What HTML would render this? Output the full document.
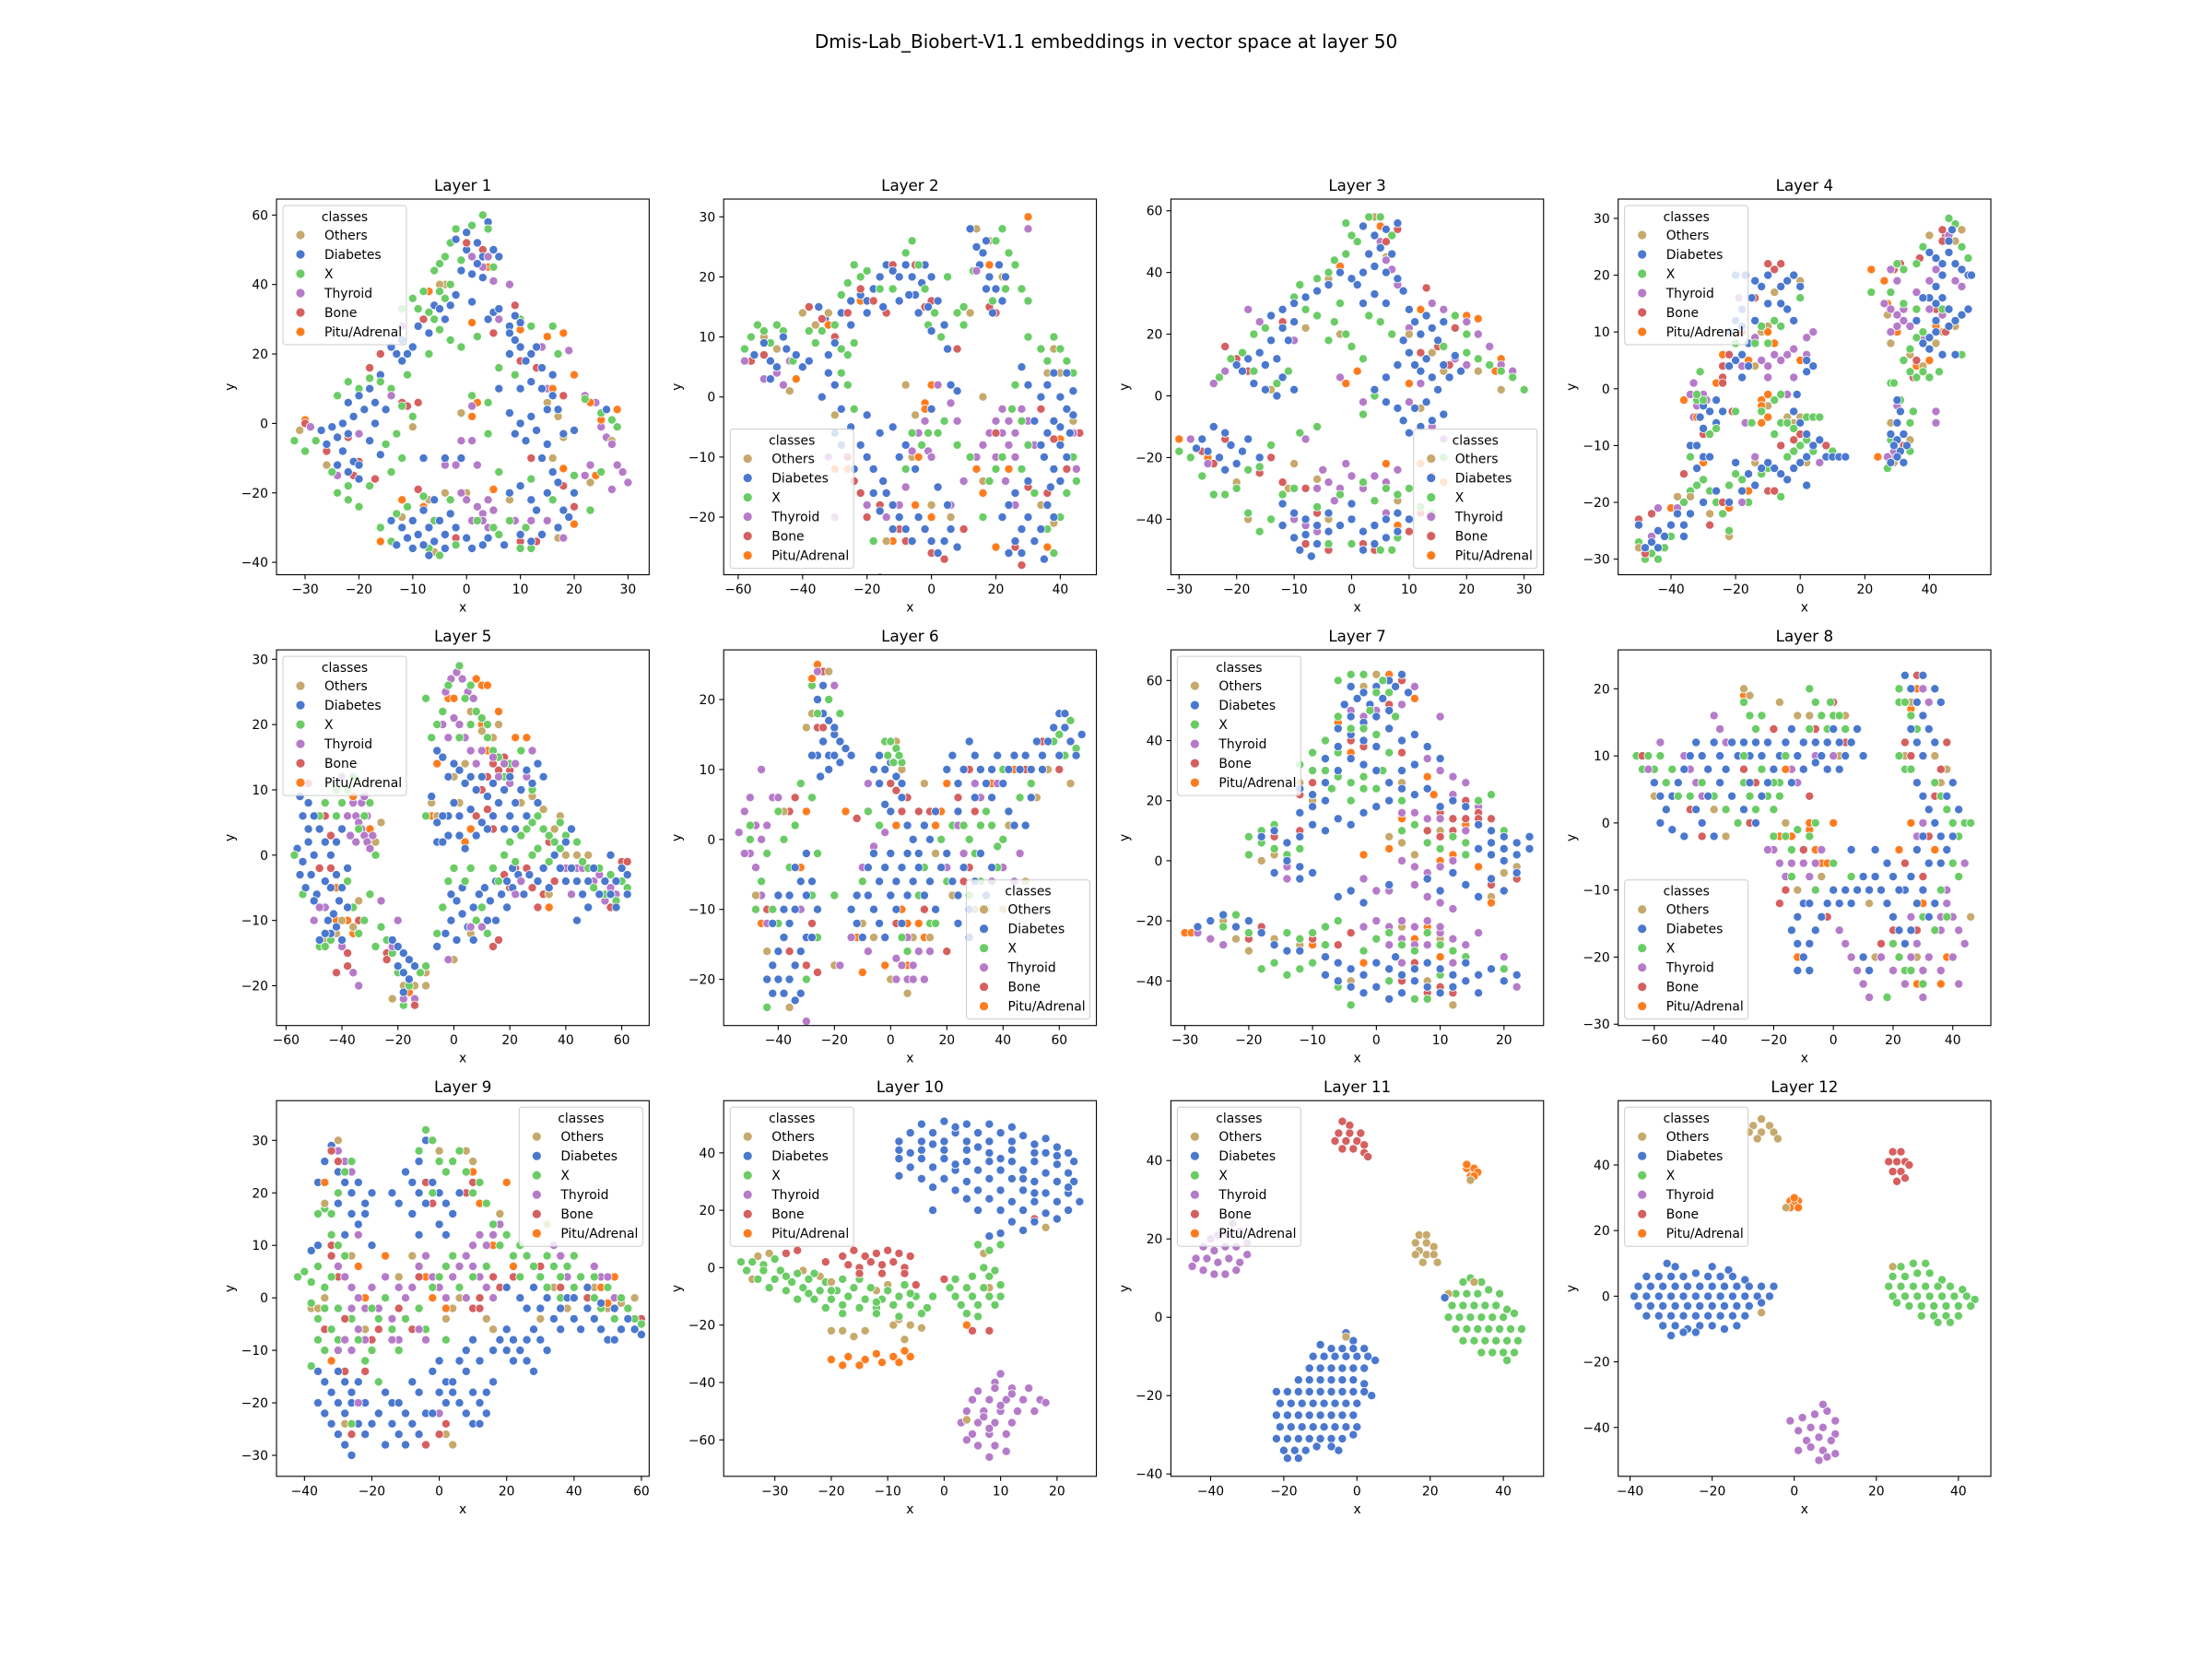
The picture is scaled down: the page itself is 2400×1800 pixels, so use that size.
<!DOCTYPE html>
<html><head><meta charset="utf-8"><title>Dmis-Lab_Biobert-V1.1 embeddings</title>
<style>html,body{margin:0;padding:0;background:#fff}svg{display:block}text{font-family:"DejaVu Sans","Liberation Sans",sans-serif;fill:#000}</style>
</head><body>
<svg id="fig" xmlns="http://www.w3.org/2000/svg" width="2400" height="1800" viewBox="0 0 2400 1800">
<rect width="2400" height="1800" fill="#fff"/>
<text x="1200" y="52" font-size="20" text-anchor="middle">Dmis-Lab_Biobert-V1.1 embeddings in vector space at layer 50</text>
</svg>
<script>
const categories=["Others","Diabetes","X","Thyroid","Bone","Pitu/Adrenal"];
const classColors=["#c6a96c","#4a78cf","#6acc65","#b57bc9","#d65f5f","#fe7c1e"];
// ---- Layer 1 ----
const l1_others=[1,57,-4,40,-5,40,-12,-27,-7,-22,-4,-20,0,-20,-6,-37,8,-22,15,6,17,2,18,-4,23,-17,27,-5,16,-10,17,-33,-1,3,-10,-1,-31,-2,-26,-12];
const l1_diabetes=[0,50,2,52,4,58,3,48,-1,44,1,43,3,42,0,55,-2,53,5,50,2,46,6,48,-9,28,-8,30,-6,34,-5,33,-4,30,-3,34,-7,26,-2,37,1,35,4,30,5,32,6,33,8,28,9,31,10,29,-14,22,-13,20,-12,18,-11,20,-10,22,-12,24,-16,14,-18,10,-20,8,-17,6,-19,4,-15,4,-22,6,-21,2,-23,0,-25,-1,-27,-2,-28,-5,-26,-6,-24,-4,-22,-3,-23,-8,-21,-11,-24,-12,-22,-14,-20,-12,-18,-5,-17,0,-16,-9,-20,-16,8,26,9,24,10,22,12,20,8,20,11,18,13,22,14,16,12,12,10,10,14,10,16,8,15,4,12,2,10,0,13,-2,15,-6,11,-5,9,-3,8,3,6,10,16,14,17,4,18,-3,14,-10,16,-14,17,-17,15,-20,12,-22,13,-25,18,-25,20,-20,19,-27,17,-30,14,-32,12,-34,10,-32,8,-20,10,-18,7,-35,4,-33,20,-2,26,4,-12,-30,-10,-28,-9,-32,-8,-25,-7,-30,-6,-34,-5,-28,-4,-32,-3,-26,-6,-22,-8,-35,-10,-36,-11,-33,-13,-35,-2,-30,0,-33,1,-36,3,-35,-4,-36,-7,-38,-14,-28,-1,-10,-4,-10,-8,-10];
const l1_x=[-3,52,-4,48,-2,56,1,57,-1,47,5,45,4,56,-5,46,-6,44,3,60,-10,36,-9,33,-7,32,-6,30,-8,38,-5,38,-4,36,-3,40,-12,33,-5,27,-3,24,-1,22,2,25,-7,20,10,30,12,28,16,28,17,20,6,16,9,14,-11,14,4,6,-20,10,-22,12,-24,8,-18,13,-16,12,-14,10,-12,5,-10,2,-13,-3,-15,-6,-12,-10,-14,-14,-28,-5,-30,-8,-32,-5,-25,-14,-24,-20,-22,-22,-20,-24,-18,-18,-22,-18,-16,-30,-14,-34,-13,-26,-11,-24,-8,-21,-6,-28,-3,-22,-2,-35,-5,-38,-7,-36,2,-28,5,-30,6,-32,10,-36,12,-36,11,-30,8,-28,12,-16,16,-22,20,-15,23,-25,25,-14,25,3,27,1,28,-1,22,7,1,8,4,-3,6,-14];
const l1_thyroid=[1,48,3,45,5,41,4,48,8,40,6,30,14,22,15,10,19,21,22,8,24,6,25,-1,26,-4,27,-6,23,-12,22,-15,28,-12,29,-14,30,-17,27,-19,-1,-20,0,-22,2,-24,3,-26,1,-28,4,-22,3,-28,5,-25,4,-30,-2,-12,-4,-12,-1,-5,1,-5,2,-12,1,5,-24,-15,12,-28,15,-28,18,-33,9,-28,-12,28,-14,8,-29,-1,-20,-3];
const l1_bone=[4,58,3,50,0,52,-18,16,-16,20,-12,6,-11,5,-9,6,-20,-11,-21,-15,-17,-16,-22,-4,-26,-8,9,34,5,26,10,18,13,16,12,-10,18,8,12,-16,18,-18,20,-24,10,-34,13,-34,-9,-19,-2,-33,-30,0,-8,30];
const l1_pitu=[4,45,-4,30,1,29,2,6,1,2,-7,38,15,25,18,26,20,14,16,10,23,6,24,-15,25,1,28,4,20,-29,18,-13,-16,-34,-8,-24,5,-19,10,27,-30,1,-12,-22];
// ---- Layer 2 ----
const l2_others=[-52,10,-48,8,-44,1,-40,14,-36,12,-32,14,-26,19,-6,-10,-5,-3,12,14,14,28,18,26,22,20,36,4,38,8,40,4,44,-4,34,-18,38,-21,16,-14,28,-12,6,-20,-8,2,-30,-3,-14,-24,0,-18,16,0];
const l2_diabetes=[-35,15,-33,13,-30,12,-28,14,-25,16,-22,17,-20,16,-18,18,-16,20,-14,22,-12,21,-10,20,-8,22,-6,20,-5,17,-3,19,-2,22,0,20,-1,15,-4,14,-7,17,-10,16,-15,15,-20,14,-25,12,-30,9,-32,7,2,16,4,12,0,11,5,8,12,28,14,25,16,24,15,22,17,26,18,20,20,18,22,16,19,14,21,22,23,20,17,18,-55,7,-52,9,-50,6,-48,5,-45,8,-42,7,-40,5,-38,6,-46,10,-50,3,-34,0,-32,4,-30,2,-28,-2,-30,-6,-28,-8,-25,-5,-22,-8,-20,-10,-18,-12,-15,-14,-18,-16,-16,-19,-14,-16,-12,-18,-10,-20,-12,-22,-8,-22,-6,-24,-4,-20,-2,-22,0,-24,2,-26,4,-24,6,-22,8,-25,5,-18,2,-15,-20,-3,-24,-12,-10,-10,-12,-5,-8,-8,-5,-12,0,-2,8,1,6,2,-16,-6,22,-20,24,-18,26,-24,28,-22,30,-20,32,-24,34,-22,36,-18,38,-20,26,-16,30,-14,28,-26,24,-26,35,-27,40,-14,34,0,36,2,38,4,40,0,42,-2,38,-4,36,-6,40,-8,42,-10,38,-12,35,-10,44,-3,42,4,44,1,32,-4,34,-8,30,2,28,5,40,-5,37,-15,43,-6];
const l2_x=[-58,8,-56,10,-54,12,-52,11,-50,9,-48,12,-46,11,-43,6,-38,11,-36,9,-34,11,-30,12,-28,8,-26,7,-24,9,-28,17,-26,19,-24,22,-22,20,-20,21,-16,18,-12,18,-8,24,-6,26,-4,22,-2,18,-1,12,1,14,3,10,8,14,10,12,5,20,13,21,20,26,22,28,24,24,26,22,28,18,30,16,23,18,19,16,10,15,30,10,34,8,36,6,40,8,42,6,44,4,38,10,25,-2,26,2,28,-4,30,-8,28,-12,32,-16,36,-22,40,-20,42,-16,-28,4,-26,2,-24,-2,-18,-24,-16,-30,-8,-12,-6,-6,-3,-8,-1,-6,2,-6,4,-4,8,-8,12,-10,18,-14,16,-20,20,-12,22,-10,44,-10,45,-14,38,-26];
const l2_thyroid=[-52,3,-48,4,-46,2,-44,6,-58,6,-30,-20,-32,-10,-20,-18,-14,-20,-10,-18,-8,-15,-6,-9,-4,-6,-2,-4,-1,-9,0,-10,2,2,6,-1,8,-4,14,-10,16,-8,18,-6,20,-4,22,-6,24,-8,26,-10,24,-4,22,-2,26,-6,28,-2,20,-10,23,-14,26,-18,30,-4,32,-8,44,-6,45,-12,30,28,14,21,6,-18,10,-14];
const l2_bone=[-56,6,-52,7,-38,15,-34,13,-30,10,-26,14,-22,18,-18,16,-14,14,-12,22,-5,22,-2,15,0,16,8,8,18,15,20,14,-26,-10,-24,-14,-22,-16,-20,-20,-16,-18,-10,-22,-8,-24,0,-26,4,-27,10,-22,26,-25,30,-15,36,-16,42,-12,46,-6,38,-7,28,-28,34,-2,20,-6];
const l2_pitu=[30,30,18,22,-32,12,-22,16,-26,-12,-42,3,-30,-12,-12,-24,-16,-18,-4,-10,-2,-1,0,2,-5,-18,0,-20,14,-12,16,-16,24,-12,36,2,40,-7,-2,-2,20,-25,36,-25];
// ---- Layer 3 ----
const l3_others=[4,58,6,45,-4,38,-2,20,-8,22,-12,6,-14,2,-20,-28,-18,-40,-10,-22,-6,-27,-4,-40,6,-46,8,-34,12,-4,14,14,16,8,22,8,26,2,-11,-30,10,20];
const l3_diabetes=[2,55,4,52,6,54,8,56,5,48,3,46,7,46,4,42,6,40,8,38,2,40,0,38,-2,40,-4,36,-6,34,-8,32,-10,30,-12,28,-14,26,-12,22,-14,18,-16,14,-18,12,-20,10,-15,10,-13,12,-11,18,-10,24,1,36,2,30,4,33,6,30,9,34,10,28,11,24,12,20,13,26,14,22,15,18,16,24,10,14,11,10,12,8,13,12,14,6,15,2,13,-2,11,-4,9,-8,10,-12,12,-10,14,-8,16,-6,8,-4,6,-2,4,2,6,6,8,10,9,18,16,10,17,6,18,13,19,8,-19,8,-17,4,-15,2,-12,6,-13,0,-10,2,-22,-12,-24,-10,-26,-14,-25,-18,-23,-20,-21,-16,-20,-22,-18,-14,-19,-18,-22,-24,-27,-17,-16,-20,-12,-35,-10,-38,-8,-40,-6,-42,-8,-45,-6,-48,-4,-44,-2,-42,0,-40,2,-44,4,-42,6,-40,8,-38,6,-46,4,-48,2,-50,-10,-46,-12,-42,-4,-38,0,-35,8,-44,10,-40,-9,-50,-7,-52];
const l3_x=[0,52,-1,56,1,50,3,58,5,58,7,52,-1,46,-3,44,-4,40,-6,38,-9,36,-10,32,-8,28,-6,26,-2,30,-3,24,-1,20,-4,18,0,16,2,12,3,26,5,24,7,20,-15,22,-17,20,-19,14,-21,12,-23,6,-17,8,-13,4,-11,8,16,16,20,14,22,12,24,10,26,8,28,6,30,2,20,20,18,26,4,0,2,-6,-6,-10,-9,-12,-14,-16,-16,-23,-18,-24,-20,-30,-22,-32,-24,-32,-26,-26,-28,-20,-30,-18,-18,-38,-16,-44,-14,-40,-12,-32,-10,-30,-6,-36,-2,-32,2,-28,4,-34,6,-30,8,-32,10,-30,5,-50,7,-50,8,-46,12,-36,14,-38,16,-20,-4,-48,0,-48];
const l3_thyroid=[5,50,6,44,7,41,8,36,14,30,16,28,18,26,20,24,22,20,24,16,26,10,28,8,12,4,10,-2,14,-10,16,-14,18,12,20,10,10,22,-18,28,-16,24,-10,18,-22,8,-24,4,-28,-14,-25,-22,-8,-14,-6,-30,-4,-28,-2,-30,0,-26,2,-30,4,-26,6,-28,8,-24,-3,-34,-1,-22,-5,-24,-8,-42,-6,-44,-10,-40,6,-38,-2,6,2,-2];
const l3_bone=[8,54,6,50,-6,34,-10,32,-12,24,-22,16,-20,12,-18,8,-26,-18,-24,-22,-22,-14,-14,-20,-16,-25,-12,-28,-8,-30,-6,-38,-8,-48,-4,-50,2,-48,4,-50,10,-44,12,-38,14,-26,16,-6,17,10,12,14,15,16,13,35,18,22];
const l3_pitu=[5,55,-2,42,12,28,20,26,22,25,26,12,25,8,1,8,-1,4,14,-26,12,-22,16,-28,6,-22,-30,-14,-25,-20,8,-42,10,4];
// ---- Layer 4 ----
const l4_others=[-2,20,0,19,-8,17,-10,11,-12,10,-16,8,-14,4,-10,-3,-4,-5,-2,-6,0,-5,2,-13,-14,-13,-22,-26,-28,-22,-34,-19,-38,-19,-50,-28,14,-12,40,27,48,26,50,28,48,11,44,10,42,8,38,4,40,2,34,6,28,8,27,13,28,-6,29,-13,34,-9];
const l4_diabetes=[-20,20,-17,20,-14,19,-10,20,-6,18,-4,19,-2,20,0,18,-12,18,-15,16,-18,14,-20,12,-22,10,-18,11,-14,12,-10,15,-6,15,-4,14,-2,12,-16,8,-18,6,-20,5,-22,4,-18,2,-16,4,2,5,4,4,2,3,-1,-1,-2,-4,0,-6,2,-8,-30,-3,-28,-4,-26,-2,-24,-4,-26,-6,-30,-7,-31,-5,-34,-10,-32,-10,-30,-12,-28,-12,-32,-14,-20,-13,-16,-15,-12,-14,-10,-13,-8,-14,-6,-15,-4,-16,-2,-14,0,-13,2,-12,4,-10,6,-9,8,-12,10,-12,12,-12,14,-12,-14,-17,-18,-18,-22,-20,-26,-18,-30,-20,-34,-22,-36,-24,-38,-22,-40,-24,-42,-26,-44,-25,-46,-27,-48,-28,-50,-24,-44,-28,-36,-26,2,-17,40,24,42,23,44,22,46,24,48,22,50,21,52,20,44,20,42,18,40,16,42,15,44,16,46,14,48,12,50,13,52,14,46,11,42,10,40,9,38,8,40,7,44,6,48,6,42,12,36,12,38,16,46,26,47,28,53,20,30,-2,31,-4,30,-6,32,-8,30,-9,28,-8,29,-10,31,-11,33,-10,30,-12,28,-13,32,-13];
const l4_x=[-50,-27,-48,-30,-46,-29,-44,-30,-42,-28,-40,-26,-38,-22,-36,-20,-34,-18,-32,-17,-30,-16,-28,-18,-26,-20,-28,-22,-24,-22,-22,-17,-20,-15,-18,-16,-16,-20,-14,-17,-12,-15,-10,-14,-6,-19,-4,-12,-2,-11,0,-10,2,-9,4,-11,6,-9,10,-11,-34,-12,-32,-2,-30,-2,-32,-1,-22,-25,-31,3,-28,-8,-26,-7,-8,-8,-6,-6,-4,-6,-2,-7,2,-5,4,-5,6,-5,-20,-4,-15,-6,-12,-4,-8,-2,-6,-1,-10,8,-14,8,-12,11,-8,12,-6,11,-20,8,0,16,46,30,48,29,50,25,52,23,38,25,36,22,30,22,32,21,22,17,28,17,32,15,36,14,38,10,36,9,34,7,32,5,34,3,36,2,38,3,40,2,43,3,50,6,28,1,29,1,31,-2,34,-6,35,-4,34,-11,32,-13,27,-14,28,-9,44,14];
const l4_thyroid=[-33,1,-34,-1,-33,-5,-32,-3,-30,-1,-29,-2,-17,-6,-14,9,-12,5,-10,4,-8,6,-6,5,-4,6,-2,7,0,5,2,6,-2,2,-4,-1,-10,2,-19,16,-18,4,4,10,2,9,-14,-12,-18,-20,-38,-21,-44,-21,-46,-26,6,-13,28,21,30,19,28,17,26,15,28,14,30,13,32,14,30,11,28,10,32,12,34,11,36,17,40,19,42,21,44,13,40,14,38,9,46,27,48,19,50,18,30,-3,29,-11,27,-12,42,-4,42,-6];
const l4_bone=[-10,22,-8,21,-6,22,-14,16,-18,10,-22,6,-24,4,-24,2,-24,1,-21,-4,-30,-8,-36,-15,-28,-24,-24,-20,-10,-18,-8,-18,-6,-10,-2,-9,0,-8,4,-10,8,-10,-48,-29,-50,-23,-46,-22,31,22,29,21,37,23,45,27,44,28,44,26,42,14,45,10,36,5,35,2,32,-10,28,-12];
const l4_pitu=[-24,6,-26,1,-36,-2,-32,-5,-30,-13,-10,10,-8,8,-8,6,-12,-2,-12,-3,-10,-1,-12,-6,-10,-5,-16,5,-16,-18,-22,-21,-40,-21,0,5,22,21,26,19,27,15,30,10,36,4,40,5,42,11,24,-12];
// ---- Layer 5 ----
const l5_others=[-42,6,-46,-13,-44,-12,-42,-12,-40,-10,-36,-11,-34,-7,-28,2,-26,5,-22,-22,-18,-20,-14,-20,-10,-18,0,12,2,8,4,14,6,22,10,19,14,18,16,20,24,8,28,9,32,7,36,4,38,6,40,0,44,0,46,-1,48,0,56,-6,62,-6,34,-6,6,-12,0,-16,-10,-20,-8,8,-6,6];
const l5_diabetes=[-56,1,-54,-1,-52,2,-50,0,-48,-2,-55,-3,-53,-5,-51,-3,-49,-6,-47,-8,-45,-10,-43,-9,-41,-7,-44,-5,-46,-4,-42,-3,-40,-5,-38,-8,-44,-12,-46,-12,-48,-13,-42,-11,-40,-13,-50,-7,-54,6,-52,8,-50,6,-48,4,-46,2,-44,0,-42,2,-40,4,-52,4,-55,9,-38,-2,-22,-13,-20,-14,-18,-15,-16,-16,-18,-18,-16,-19,-14,-17,-20,-17,-18,-21,-6,-14,-3,-12,-1,-10,1,-13,3,-9,5,-11,7,-13,-1,-6,1,-7,3,-5,7,-8,9,-6,11,-5,13,-7,15,-4,17,-6,19,-4,21,-5,23,-3,25,-6,27,-3,21,-2,19,-8,15,-10,12,-10,-6,16,-4,15,-2,12,0,14,2,13,4,11,6,12,8,10,10,12,12,9,14,11,16,8,18,10,20,12,22,8,24,10,26,13,28,11,30,14,32,12,20,6,14,6,10,5,6,7,2,6,0,8,-2,6,-4,6,-6,5,-8,9,-6,2,-4,2,-2,3,2,3,4,1,8,3,12,4,18,4,22,4,26,6,30,8,36,0,38,-2,40,-4,42,-2,44,-4,46,-6,48,-4,50,-2,52,-6,54,-4,56,-6,58,-4,60,-2,62,-3,44,-10,48,-8,58,-8,40,2,42,4,56,0,62,-6,32,-2,30,-4,34,-5];
const l5_x=[-57,0,-54,-6,-50,-10,-48,-14,-46,-14,-44,-13,-42,6,-40,8,-38,10,-36,12,-34,4,-38,-4,-36,-8,-34,-12,-32,-10,-30,-6,-28,-14,-26,-11,-24,-13,-22,-15,-20,-18,-18,-23,-16,-20,-12,-18,-10,-17,-48,6,-46,8,-42,10,-32,6,-30,8,-28,0,-4,22,-2,26,2,29,4,24,6,20,8,22,10,21,12,18,14,16,16,15,18,12,20,14,24,16,26,12,28,10,12,20,6,26,-6,20,-8,18,-10,24,-10,6,2,18,24,3,26,4,28,5,30,6,32,4,34,3,36,2,38,5,40,3,44,2,46,-1,28,0,30,1,34,-1,38,1,52,-2,56,-3,58,-7,60,-4,62,-5,54,-6,50,-5,48,-2,-6,-12,-4,-8,-2,-4,0,-2,4,-4,6,-2,8,-10,10,-8,12,-12,14,-2,16,-4,18,0,20,2,22,-1];
const l5_thyroid=[-42,10,-40,12,-38,6,-36,8,-35,6,-34,5,-33,4,-32,3,-31,2,-30,1,-33,8,-35,2,-37,3,-31,6,-29,3,-32,9,-30,8,-46,-8,-50,-10,-48,-8,-40,-14,-36,-18,-34,-20,-22,-14,-18,-22,-14,-22,-20,-10,-26,-7,-3,25,-1,27,1,28,3,27,5,25,7,24,-4,20,-2,18,0,21,2,20,4,18,6,16,8,14,10,16,14,15,16,12,20,11,24,10,26,12,28,16,22,14,18,14,40,-2,42,-6,44,-2,46,-2,50,-4,52,-3,54,-7,56,-5,58,-6,12,-12,10,-11,6,-11,-2,-16,22,-6,24,-4];
const l5_bone=[-46,6,-44,3,-42,2,-44,-2,-48,-2,-42,-18,-38,-15,-38,-17,-24,-15,-24,-16,-34,-10,10,10,12,12,14,14,16,13,18,15,20,13,12,7,8,6,14,4,18,-3,20,-5,26,-2,28,-5,30,-8,32,-6,34,2,36,-4,50,-2,56,-8,60,-1,62,-1,14,-14,16,-13,22,-2,-14,-23,-52,11];
const l5_pitu=[-42,-10,-38,-10,-36,-12,-30,4,-42,-5,-36,9,-16,-21,-2,24,0,24,8,27,10,26,12,26,6,22,10,20,16,22,18,14,22,18,26,18,12,16,-6,14,-8,6,4,2,6,4,34,-8,44,-4];
// ---- Layer 6 ----
const l6_others=[-28,18,-30,16,-22,24,0,14,2,14,4,10,-34,2,-38,4,-44,-16,-48,-8,-36,-24,-20,-18,-10,-12,-6,-14,0,-20,6,-22,8,-14,14,-14,22,-8,30,-10,34,-10,40,-10,46,6,52,6,56,10,62,18,64,8,48,-6,42,2,12,8,16,-2];
const l6_diabetes=[-26,20,-24,18,-22,17,-20,15,-18,14,-16,13,-24,14,-22,12,-20,12,-26,12,-28,12,-22,10,-18,11,-14,12,-24,22,-20,16,-25,9,-4,12,-2,10,0,11,2,9,4,8,-6,10,-4,8,-2,5,0,4,4,6,6,2,8,0,10,-2,12,2,14,0,16,4,6,-2,4,-4,2,-6,0,-2,-2,-4,-4,-6,-6,-2,-8,-4,-10,-6,-12,-8,-14,-10,-12,-12,-10,-14,-8,-8,-6,-10,-4,-12,-2,-14,0,-8,2,-10,4,-12,6,-8,8,-6,10,-4,12,-8,14,-6,16,-10,18,-4,20,-2,22,-6,24,-8,26,-4,28,-10,30,-6,32,-2,34,-8,36,-4,20,10,22,12,24,8,26,10,28,14,30,12,32,10,34,8,36,10,38,12,40,8,42,10,44,12,46,10,48,12,50,10,52,14,54,12,56,14,58,16,60,18,62,16,64,14,66,12,68,15,60,12,50,6,42,4,36,6,30,6,24,4,44,2,48,2,54,10,62,18,24,-12,28,-14,-34,-4,-32,-6,-30,-8,-34,-10,-36,-12,-38,-14,-40,-16,-42,-18,-44,-20,-40,-20,-38,-22,-36,-20,-34,-18,-32,-16,-30,-14,-36,-8,-38,-10,-42,-12,-40,-8,-30,-2,-28,-6,-26,-10,-28,-14,-32,-22,-34,-23,-42,-22];
const l6_x=[-28,22,-26,18,-22,20,-18,18,-30,4,-32,8,-28,6,-34,2,-26,-2,-28,-8,-36,-4,-38,0,-40,4,-44,-2,-46,-6,-48,-10,-50,2,-42,-10,-40,-12,-26,-14,-30,-20,-44,-24,-2,14,0,14,2,13,4,11,-1,12,1,11,3,12,-4,2,-8,4,-12,-12,14,-12,10,-8,12,-4,18,0,22,2,26,2,28,0,30,-2,32,2,34,4,36,2,38,-1,40,0,38,-4,32,-6,34,-10,28,-8,20,-6,16,-12,40,10,46,6,50,8,58,14,60,15,64,17,66,13,62,12,-10,-6,4,-14,6,-16,-50,0,-20,-8];
const l6_thyroid=[-52,4,-50,6,-48,2,-46,0,-44,-2,-48,-4,-50,-2,-46,-8,-44,2,-42,6,-54,1,-52,-2,-40,6,-46,10,-20,22,-26,24,-44,-12,-40,-8,-32,-10,-30,-26,4,-18,6,-20,8,-18,10,-16,6,-14,8,-20,2,-17,12,-20,14,-16,2,-20,-14,-14,-18,-18,-10,-4,-6,-1,-2,1,20,-4,24,2,26,-2,30,8,32,6,36,-6,40,-4,44,-6,46,-2,-8,8,-8,-16,38,8];
const l6_bone=[-24,24,-26,16,-24,16,-36,4,-34,6,-38,-10,-40,-12,-36,-16,-30,-18,-26,-19,-44,-10,-28,-12,0,8,2,7,4,4,6,6,10,4,14,4,18,4,22,2,26,-6,28,-4,20,-16,12,-10,2,-12,24,6,28,10,30,4,48,10,54,14,66,12,60,10,-12,3];
const l6_pitu=[-26,25,-28,23,-52,-2,-46,-12,-42,-10,-30,4,-32,-4,-16,4,-12,-14,2,2,4,-10,4,-14,6,-12,10,-12,12,-14,6,-18,-2,-18,-10,-19,18,4,16,2,20,8,36,8,44,10,56,14];
// ---- Layer 7 ----
const l7_others=[0,62,-2,58,-4,40,-2,32,-12,26,-16,2,-18,0,-10,20,2,8,4,6,6,2,10,10,18,-12,20,-4,22,-2,-24,-20,-22,-26,-12,-28,-8,-28,-8,-38,-4,-40,8,-40,12,-48,10,-26,4,-22,-16,-26,-20,-30,4,26];
const l7_diabetes=[-4,58,-2,56,0,58,2,60,4,62,-3,54,-1,52,1,54,3,58,5,56,-5,52,-4,48,-2,46,0,48,2,50,-6,44,-4,42,-2,40,0,38,2,44,4,40,6,42,8,38,10,34,6,32,4,30,2,26,4,24,6,22,2,20,0,18,-2,16,-4,12,-6,14,-8,20,-10,18,-12,16,-10,12,-8,10,-12,8,-14,6,-16,10,-18,8,-10,22,-12,24,-8,26,-6,30,-8,34,-6,38,-4,34,-2,32,0,30,8,24,10,18,12,20,14,18,16,12,18,10,20,8,22,6,24,8,18,6,20,4,22,2,24,4,18,2,16,4,20,0,22,-4,18,-6,20,-10,14,-8,16,-12,12,-4,10,-10,8,-6,-14,0,-12,-2,-10,-4,-12,-6,-16,-4,-4,-10,-2,-14,-6,-12,2,-8,-28,-22,-26,-20,-24,-18,-22,-22,-20,-20,-18,-24,-16,-28,-14,-30,-12,-30,-8,-32,-6,-34,-4,-36,-2,-38,0,-34,2,-36,4,-38,6,-40,8,-42,10,-44,12,-42,14,-40,16,-38,18,-36,20,-40,22,-38,0,-42,-2,-44,2,-46,4,-44,6,-36,8,-34,10,-36,12,-38,-4,-42,-6,-40,-8,-38,3,-32,14,-34,16,-44];
const l7_x=[-6,60,-4,62,-2,62,0,56,1,60,2,56,-1,50,3,48,-6,48,-8,40,-10,36,-8,30,-6,28,-4,26,-2,28,-7,24,-10,30,-12,32,-6,36,-4,44,-2,44,0,42,2,36,1,30,-2,24,-4,20,0,24,4,20,4,10,6,12,8,6,10,4,12,8,14,6,-16,12,-18,10,-20,8,-18,6,-16,4,-14,2,-12,4,-20,2,16,20,18,22,20,10,14,2,-22,-18,-24,-22,-20,-24,-14,-24,-12,-26,-10,-24,-8,-28,-10,-34,-12,-36,-14,-38,-16,-34,-18,-36,-6,-42,-4,-48,-2,-30,0,-26,2,-24,4,-28,6,-30,8,-24,10,-28,12,-30,14,-32,6,-46,8,-46,10,-38,2,-40,20,-36,-8,-22,-6,-20];
const l7_thyroid=[6,58,4,52,0,50,-4,50,-2,48,10,48,8,34,10,30,12,28,14,26,16,18,12,22,4,16,6,16,8,14,10,14,14,10,6,-2,8,-4,4,0,10,-2,12,0,14,2,6,-8,8,-12,10,-14,12,-16,2,-10,0,-10,-2,-6,-14,-2,-14,-6,-28,-24,-26,-26,-24,-28,-2,-22,0,-20,2,-22,4,-20,6,-22,8,-20,10,-24,0,-26,4,-26,6,-28,10,-22,12,-26,14,-28,16,-24,2,-28,8,-28,12,-34,4,-34,20,-32,22,-42];
const l7_bone=[4,60,2,52,-4,40,-6,36,-2,38,4,36,-10,26,-12,22,-12,10,-14,6,-16,8,14,20,16,16,10,16,12,14,14,14,8,10,10,8,16,14,18,14,12,10,20,-10,18,-8,22,-6,-18,-22,-20,-26,-10,-26,-6,-28,-4,-24,6,-34,8,-44,10,-42,12,-44,-28,-22,-14,-24,4,-40];
const l7_pitu=[-2,56,2,62,6,54,-6,46,-4,36,8,28,9,22,2,4,4,14,-2,2,10,0,12,2,14,12,16,-2,18,-14,-30,-24,-29,-24,-10,-28,6,-26,8,-22,10,-32,-2,-34,22,-38];
// ---- Layer 8 ----
const l8_others=[-60,4,-56,2,-40,2,-36,-2,-30,20,-28,19,-18,18,-12,16,-8,16,0,18,2,10,4,16,-16,0,-12,-10,-6,-16,-4,-8,26,18,24,10,36,6,38,8,30,-8,28,-20,14,-20,12,-12,-6,-10,46,-14,40,-20,34,10];
const l8_diabetes=[-64,10,-62,8,-60,6,-58,4,-56,2,-54,4,-52,6,-50,8,-48,10,-46,12,-44,10,-42,8,-40,12,-38,10,-36,8,-34,12,-32,10,-30,12,-28,10,-26,12,-24,10,-22,12,-20,8,-18,10,-16,12,-14,14,-12,10,-10,12,-8,14,-6,12,-4,10,-2,12,0,14,2,12,4,10,6,12,8,14,10,10,-58,0,-54,-1,-50,-2,-46,2,-42,4,-38,6,-34,4,-30,2,-26,0,-24,4,-28,6,-22,6,-14,6,-10,8,-6,9,-2,8,2,8,-40,-2,-44,0,24,22,26,20,28,18,30,16,26,14,28,12,30,10,32,14,34,12,36,18,34,20,30,22,28,6,30,4,32,2,34,0,36,-2,30,-2,28,-4,32,-6,26,-8,24,-10,22,-10,36,-6,38,-4,40,-2,42,2,38,4,40,6,-10,-12,-12,-14,-14,-16,-12,-18,-10,-20,-8,-18,-6,-16,-4,-14,-2,-12,0,-10,2,-12,-8,-12,-12,-22,-8,-22,4,-10,6,-12,8,-10,10,-8,12,-10,14,-8,16,-10,18,-12,20,-14,22,-16,24,-18,26,-16,28,-12,30,-10,32,-14,34,-12,18,-6,20,-8,14,-4,6,-4,12,-22,10,-20];
const l8_x=[-66,10,-64,8,-62,10,-60,8,-58,10,-56,6,-54,8,-52,4,-48,4,-44,6,-40,4,-36,2,-32,0,-30,6,-28,4,-26,2,-24,8,-22,4,-20,2,-18,4,-30,18,-28,16,-26,14,-24,16,-30,10,-8,20,-6,18,-4,16,-2,14,-1,18,0,16,2,16,4,14,-8,14,-16,10,-18,6,-20,-2,-16,-2,-14,-4,-12,-1,-8,-2,-6,0,-20,6,22,18,22,20,24,18,26,16,28,14,22,10,24,8,26,8,34,6,36,4,38,2,40,0,42,-2,44,0,46,0,40,-6,42,-8,36,-10,38,-14,34,-16,30,-14,24,-22,22,-20,20,-18,26,-22,18,-26,30,-24,-4,-14,-6,-10,0,-6,6,-8,-14,-8];
const l8_thyroid=[-48,8,-46,6,-44,4,-50,10,-40,16,-38,14,-36,12,-42,4,-62,8,-58,12,-14,8,-12,6,-6,10,0,10,2,12,4,14,-20,-4,-18,-6,-16,-8,-14,-6,-10,-6,-8,-8,-6,-6,-4,-4,2,-16,4,-18,6,-20,8,-22,10,-24,12,-26,16,-20,20,-22,24,-24,26,-20,28,-18,30,-22,32,-20,34,-12,36,-14,38,-12,40,-14,42,-16,36,-16,38,-10,40,-20,44,-18,44,-6,42,-24,36,-22,30,-26,26,-14,28,-2,30,20,32,18,30,0,-22,-4];
const l8_bone=[-64,10,-60,6,-48,2,-44,-2,-30,8,-28,0,-26,6,-20,14,-16,-10,-18,-12,-14,-4,-10,-4,-8,4,-6,14,0,18,4,12,24,12,26,10,28,22,32,-2,34,4,36,8,38,-12,24,-6,-2,-14,16,-18,20,-16,28,-16,30,-8,36,-2,38,12];
const l8_pitu=[-30,19,-24,10,-28,4,-18,-2,-14,-2,-8,-1,-6,-4,-4,-6,-2,-6,0,0,-16,8,-8,0,28,20,26,17,22,-4,26,0,30,-12,28,-24,36,-24,38,-20,38,4,34,-4,-12,-20];
// ---- Layer 9 ----
const l9_others=[-38,-2,-36,-2,-34,0,-26,8,-22,-6,-28,-24,-12,4,-8,8,-4,22,0,28,2,-4,4,-2,6,0,10,-2,14,-4,16,-6,30,-4,34,2,38,-2,46,2,50,-2,54,-1,58,0,8,28,10,26,18,16,2,-26,4,-28,-34,18,-30,30,32,14];
const l9_diabetes=[-36,22,-34,26,-32,29,-30,24,-28,22,-26,20,-24,22,-22,18,-20,20,-22,16,-26,16,-24,14,-30,18,-20,10,-28,12,-38,9,-36,10,-10,24,-8,22,-6,20,-4,18,-2,22,0,20,2,18,4,16,6,20,-6,26,-4,30,-8,16,-12,18,-14,20,0,14,2,12,-6,12,-36,-14,-34,-16,-32,-18,-30,-20,-28,-22,-26,-18,-24,-16,-22,-20,-20,-24,-18,-22,-16,-18,-14,-20,-30,-14,-28,-16,-26,-20,-24,-24,-22,-26,-30,-26,-28,-28,-26,-30,-34,-22,-32,-24,-36,-20,-12,-20,-10,-22,-8,-24,-6,-26,-4,-22,-8,-16,-6,-18,-12,-26,-14,-24,-10,-28,-16,-28,-2,-14,0,-12,2,-16,4,-18,6,-20,8,-22,10,-24,12,-20,14,-18,16,-16,14,-22,12,-24,10,-18,8,-14,6,-12,4,-16,2,-20,0,-18,-2,-22,8,-10,12,-12,10,-8,16,-10,18,-8,20,-6,22,-8,24,-10,26,-12,28,-14,22,-12,20,-10,26,-8,28,-6,30,-8,32,-10,34,-4,36,-2,38,0,40,-4,42,-6,44,-2,46,-4,48,-6,50,-8,52,-2,54,-6,56,-4,58,-6,60,-7,30,-2,32,0,26,-2,36,-6,40,0,44,2,48,-1,52,-8,20,2,24,0,28,2];
const l9_x=[-42,4,-40,5,-38,3,-36,6,-34,2,-32,4,-30,-2,-34,-2,-36,-4,-38,-1,-32,-6,-30,-8,-34,-10,-36,-8,-38,-13,-32,16,-30,20,-28,24,-26,26,-34,17,-36,16,-32,12,-30,10,-28,8,-26,-4,-24,-8,-20,-2,-18,-4,-16,0,-14,-6,-12,-10,-10,-4,-6,-2,-4,-6,-2,2,0,4,2,6,4,8,-6,28,-4,32,-2,30,0,26,2,24,-2,20,4,26,6,28,8,24,10,20,12,22,14,18,16,14,18,10,20,12,22,8,24,10,26,8,28,6,30,4,32,8,34,6,36,4,38,6,40,8,42,4,44,2,46,0,48,-2,50,2,52,-4,54,0,56,-2,58,-4,60,-5,24,4,28,2,32,2,36,0,40,2,46,4,14,6,10,4,6,2,2,-8,-20,-10,-22,-12,-18,-16,-26,-24];
const l9_thyroid=[-30,28,-28,26,-26,24,-24,12,-30,6,-28,4,-26,2,-24,0,-26,-2,-28,-4,-24,-6,-22,-8,-26,-10,-28,-8,-30,-10,-22,-2,-20,2,-18,-2,-16,4,-14,-4,-12,-8,-10,0,-8,2,-6,6,-4,8,-2,4,0,2,2,0,4,4,6,6,8,8,10,10,12,12,14,10,16,12,18,14,10,6,12,4,14,2,16,0,8,0,46,6,48,4,50,4,52,0,38,4,36,8,34,10,-4,-8,-6,-6,-12,2,-14,-8,-24,-20,0,-22];
const l9_bone=[-32,10,-32,8,-30,4,-34,-6,-28,-14,-24,-16,-22,-14,-20,-8,-18,-6,-12,-2,-8,-6,-6,4,-4,22,-2,18,8,20,10,22,12,0,14,2,16,4,10,-2,12,-2,18,2,22,4,30,6,36,2,44,0,56,-4,60,-4,2,-24,0,-26,-4,-28,-26,-26,-28,-4,-32,28,-30,26];
const l9_pitu=[-34,22,-36,-4,-28,4,-30,-14,-32,-12,-24,6,-22,0,-20,-2,-6,6,-4,4,-2,0,2,-2,4,4,10,24,12,18,20,22,18,14,16,10,22,6,36,4,48,2,52,4,50,-1,-16,8];
// ---- Layer 10 ----
const l10_others=[-33,4,-31,5,-34,-4,-25,-1,-22,-3,-20,-22,-18,-22,-16,-24,-14,-22,-12,-8,-10,-6,-9,-20,-8,-18,-6,-20,-4,-21,-7,-25,7,5,8,-7,18,14,4,-53,-20,-5];
const l10_diabetes=[-4,50,0,51,4,50,8,50,12,49,-6,47,-2,47,2,47,6,47,10,47,14,46,18,45,-8,44,-4,44,0,44,4,44,8,44,12,44,16,43,20,42,-8,41,-4,41,0,41,4,41,8,40,12,41,16,40,20,39,22,40,-8,38,-4,38,0,38,4,37,8,37,12,37,16,37,20,36,23,37,-6,35,-2,35,2,34,6,34,10,34,14,34,18,33,22,33,-8,32,-4,31,0,31,4,30,8,31,12,31,16,30,20,30,23,30,-2,28,2,27,6,27,10,27,14,27,18,26,22,26,4,24,8,24,12,23,16,23,20,23,24,23,6,20,10,20,14,20,18,19,22,20,-2,20,12,16,16,16,20,17,14,13,10,12,8,11,-2,43,2,49,6,42,10,38,14,31,18,40,22,28,-6,40,2,36,16,26];
const l10_x=[-36,2,-34,2,-32,1,-30,3,-35,-1,-32,-1,-29,-1,-26,-2,-23,-2,-33,-4,-30,-4,-27,-5,-24,-4,-21,-5,-18,-4,-15,-4,-31,-7,-28,-8,-25,-7,-22,-8,-19,-8,-16,-7,-13,-7,-10,-8,-7,-6,-26,-11,-23,-11,-20,-11,-17,-10,-14,-11,-11,-11,-8,-10,-5,-10,-2,-10,-21,-14,-18,-13,-15,-14,-12,-14,-9,-13,-6,-13,-3,-14,-18,-16,-12,-16,-8,-17,-4,-16,2,-4,5,-3,8,-3,1,-7,4,-7,7,-7,10,-6,2,-10,5,-10,8,-10,10,-10,3,-13,6,-13,9,-13,4,-16,6,-17,7,0,9,-1,6,8,8,6,10,8,-28,-3,-20,-8,-12,-12,-6,-9,-24,-9];
const l10_thyroid=[10,-37,9,-40,6,-43,9,-42,12,-42,15,-42,17,-46,5,-46,8,-46,11,-46,14,-46,18,-47,4,-50,7,-50,10,-50,13,-50,16,-50,3,-54,6,-54,9,-54,12,-54,5,-58,8,-58,11,-58,6,-62,9,-62,11,-64,8,-66,4,-60,10,-48,7,-52,12,-44,8,-56];
const l10_bone=[-28,5,-26,6,-18,4,-16,6,-14,4,-12,5,-10,6,-8,5,-6,4,-17,1,-15,0,-13,2,-11,1,-9,2,-7,0,-15,-2,-11,-2,-7,-2,-5,-6,-21,2,0,-4,5,-22,8,-22,16,17];
const l10_pitu=[-20,-32,-17,-31,-14,-32,-12,-30,-9,-31,-6,-31,-18,-34,-15,-34,-11,-33,-8,-33,-7,-29,4,-20];
// ---- Layer 11 ----
const l11_others=[17,21,19,21,16,19,19,19,21,18,17,17,19,16,21,16,18,14,22,14,16,16,25,6,32,9,-3,-5,31,35];
const l11_diabetes=[-3,-4,-1,-6,-10,-7,-7,-8,-4,-8,-1,-8,2,-8,-12,-10,-9,-10,-6,-10,-3,-10,0,-10,3,-10,5,-11,-13,-13,-10,-13,-7,-13,-4,-13,-1,-13,2,-13,-16,-16,-13,-16,-10,-16,-7,-16,-4,-16,-1,-16,2,-17,-22,-19,-19,-19,-16,-19,-13,-19,-10,-19,-7,-19,-4,-19,-1,-19,2,-19,4,-20,-21,-22,-18,-22,-15,-22,-12,-22,-9,-22,-6,-22,-3,-22,0,-22,-22,-25,-19,-25,-16,-25,-13,-25,-10,-25,-7,-25,-4,-25,-1,-25,-21,-28,-18,-28,-15,-28,-12,-28,-9,-28,-6,-28,-3,-28,0,-28,-22,-31,-19,-31,-16,-31,-13,-31,-10,-31,-7,-31,-4,-31,-1,-30,-20,-34,-17,-34,-14,-34,-11,-33,-7,-33,-5,-34,-19,-36,-16,-36,24,5];
const l11_x=[29,9,31,10,34,9,27,6,30,6,33,6,36,7,39,6,26,3,29,3,32,3,35,3,38,3,41,2,25,0,28,0,31,0,34,0,37,0,40,0,43,1,27,-3,30,-3,33,-3,36,-3,39,-3,42,-3,45,-3,29,-6,32,-6,35,-6,38,-6,41,-6,44,-6,34,-9,37,-9,40,-9,43,-9,41,-11];
const l11_thyroid=[-45,13,-42,12,-39,11,-36,11,-33,12,-44,15,-41,15,-38,14,-35,15,-32,14,-30,16,-42,18,-39,17,-36,18,-33,18,-30,19,-38,21,-35,21,-32,22,-34,24,-40,20];
const l11_bone=[-4,50,-2,49,-5,47,-2,47,1,47,-6,45,-3,45,0,45,2,44,-4,43,-1,43,2,42,3,41];
const l11_pitu=[30,38,32,38,31,36,33,37,30,39,32,36];
// ---- Layer 12 ----
const l12_others=[-10,52,-8,54,-6,52,-11,50,-8,50,-5,50,-9,48,-4,48,-8,-5,-2,27,24,9];
const l12_diabetes=[-31,10,-29,9,-20,9,-16,8,-36,6,-33,6,-30,6,-27,6,-24,7,-21,6,-18,6,-15,6,-12,5,-38,3,-35,3,-32,3,-29,3,-26,3,-23,3,-20,3,-17,3,-14,3,-11,3,-8,3,-5,3,-39,0,-36,0,-33,0,-30,0,-27,0,-24,0,-21,0,-18,0,-15,0,-12,0,-9,0,-6,0,-38,-3,-35,-3,-32,-3,-29,-3,-26,-3,-23,-3,-20,-3,-17,-3,-14,-3,-11,-3,-8,-2,-36,-6,-33,-6,-30,-6,-27,-6,-24,-6,-21,-6,-18,-6,-15,-6,-12,-6,-32,-9,-29,-9,-26,-10,-23,-9,-20,-9,-17,-10,-14,-9,-30,-12,-27,-11,-24,-11];
const l12_x=[26,9,29,10,32,10,24,6,27,6,30,7,33,7,36,5,23,3,26,3,29,3,32,3,35,3,38,3,41,2,24,0,27,0,30,0,33,0,36,0,39,0,42,0,44,-1,28,-3,31,-3,34,-3,37,-3,40,-3,43,-3,31,-6,34,-6,37,-6,40,-6,35,-8,38,-8,25,-2];
const l12_thyroid=[-1,-38,2,-37,5,-36,8,-35,10,-38,1,-41,4,-40,7,-40,10,-42,3,-44,6,-43,9,-44,1,-47,4,-46,7,-47,10,-48,6,-50,8,-49,7,-33];
const l12_bone=[24,44,26,44,23,41,25,41,27,41,24,38,26,38,25,35,27,36,28,40];
const l12_pitu=[-1,29,1,29,0,28,-1,27,1,27,0,30];

const layerData=[
 [l1_others,l1_diabetes,l1_x,l1_thyroid,l1_bone,l1_pitu],
 [l2_others,l2_diabetes,l2_x,l2_thyroid,l2_bone,l2_pitu],
 [l3_others,l3_diabetes,l3_x,l3_thyroid,l3_bone,l3_pitu],
 [l4_others,l4_diabetes,l4_x,l4_thyroid,l4_bone,l4_pitu],
 [l5_others,l5_diabetes,l5_x,l5_thyroid,l5_bone,l5_pitu],
 [l6_others,l6_diabetes,l6_x,l6_thyroid,l6_bone,l6_pitu],
 [l7_others,l7_diabetes,l7_x,l7_thyroid,l7_bone,l7_pitu],
 [l8_others,l8_diabetes,l8_x,l8_thyroid,l8_bone,l8_pitu],
 [l9_others,l9_diabetes,l9_x,l9_thyroid,l9_bone,l9_pitu],
 [l10_others,l10_diabetes,l10_x,l10_thyroid,l10_bone,l10_pitu],
 [l11_others,l11_diabetes,l11_x,l11_thyroid,l11_bone,l11_pitu],
 [l12_others,l12_diabetes,l12_x,l12_thyroid,l12_bone,l12_pitu]
];
const xDomains=[[-35.32,33.93],[-64.5,51.2],[-31.43,33.38],[-56.35,59.0],[-63.4,69.8],[-59.4,73.2],[-32.2,26.2],[-72.1,52.75],[-48.3,62.3],[-39.06,26.97],[-50.85,50.99],[-42.9,47.9]];
const yDomains=[[-43.58,64.6],[-29.6,32.96],[-58.0,63.8],[-32.75,33.4],[-26.1,31.44],[-26.6,27.1],[-54.85,70.2],[-30.2,25.8],[-34.0,37.57],[-72.7,58.2],[-40.6,55.3],[-54.9,59.6]];
const xTickLabels=[[-30,-20,-10,0,10,20,30],[-60,-40,-20,0,20,40],[-30,-20,-10,0,10,20,30],[-40,-20,0,20,40],[-60,-40,-20,0,20,40,60],[-40,-20,0,20,40,60],[-30,-20,-10,0,10,20],[-60,-40,-20,0,20,40],[-40,-20,0,20,40,60],[-30,-20,-10,0,10,20],[-40,-20,0,20,40],[-40,-20,0,20,40]];
const yTickLabels=[[-40,-20,0,20,40,60],[-20,-10,0,10,20,30],[-40,-20,0,20,40,60],[-30,-20,-10,0,10,20,30],[-20,-10,0,10,20,30],[-20,-10,0,10,20],[-40,-20,0,20,40,60],[-30,-20,-10,0,10,20],[-30,-20,-10,0,10,20,30],[-60,-40,-20,0,20,40],[-40,-20,0,20,40],[-40,-20,0,20,40]];
const legendLocs=["ul","ll","lr","ul","ul","lr","ul","ll","ur","ul","ul","ul"];

const NS="http://www.w3.org/2000/svg";
const svg=document.getElementById("fig");
const W=404.35,H=407.6,colX=[300,785.2,1270.4,1755.7],rowY=[216,705.1,1194.2];
function mk(tag,attrs,parent){const e=document.createElementNS(NS,tag);for(const k in attrs)e.setAttribute(k,attrs[k]);(parent||svg).appendChild(e);return e;}
function fmt(v){return v<0?"\u2212"+Math.abs(v):String(v);}
const defs=mk("defs",{});
for(let p=0;p<12;p++){
  const ax=colX[p%4],ay=rowY[Math.floor(p/4)];
  const [x0,x1]=xDomains[p],[y0,y1]=yDomains[p];
  const sx=v=>ax+(v-x0)/(x1-x0)*W;
  const sy=v=>ay+H-(v-y0)/(y1-y0)*H;
  const g=mk("g",{});
  
  
  const cp=mk("clipPath",{id:"clip"+p},defs);
  mk("rect",{x:ax,y:ay,width:W,height:H},cp);
  mk("rect",{x:ax,y:ay,width:W,height:H,fill:"#fff"},g);
  const t=mk("text",{x:ax+W/2,y:ay-9,"font-size":16.7,"text-anchor":"middle"},g);
  t.textContent="Layer "+(p+1);
  
  
  const pg=mk("g",{"clip-path":"url(#clip"+p+")"},g);
  
  
  const arrs=layerData[p];
  const maxLen=Math.max(...arrs.map(a=>a.length/2));
  for(let i=0;i<maxLen;i++){
    for(let c=0;c<6;c++){
      const a=arrs[c];
      if(i*2+1<a.length){
        const pt=mk("circle",{cx:sx(a[2*i]).toFixed(1),cy:sy(a[2*i+1]).toFixed(1),r:4.6,fill:classColors[c],stroke:"#fff","stroke-width":0.8},pg);
        
        
      }
    }
  }
  const fr=mk("rect",{x:ax,y:ay,width:W,height:H,fill:"none",stroke:"#000","stroke-width":1.1},g);
  
  
  xTickLabels[p].forEach(v=>{
    const X=sx(v);
    mk("line",{x1:X,y1:ay+H,x2:X,y2:ay+H+4.9,stroke:"#000","stroke-width":1.1},g);
    const tl=mk("text",{x:X,y:ay+H+20.5,"font-size":13.9,"text-anchor":"middle"},g);
    tl.textContent=fmt(v);
    
    
  });
  yTickLabels[p].forEach(v=>{
    const Y=sy(v);
    mk("line",{x1:ax-4.9,y1:Y,x2:ax,y2:Y,stroke:"#000","stroke-width":1.1},g);
    const tl=mk("text",{x:ax-9,y:Y+5,"font-size":13.9,"text-anchor":"end"},g);
    tl.textContent=fmt(v);
    
    
  });
  const xl=mk("text",{x:ax+W/2,y:ay+H+40,"font-size":13.9,"text-anchor":"middle"},g);
  xl.textContent="x";
  
  
  const yl=mk("text",{x:0,y:0,"font-size":13.9,"text-anchor":"middle",transform:"translate("+(ax-46)+","+(ay+H/2)+") rotate(-90)"},g);
  yl.textContent="y";
  
  
  const LW=134,LH=151,loc=legendLocs[p];
  const lx=(loc==="ul"||loc==="ll")?ax+7:ax+W-7-LW;
  const ly=(loc==="ul"||loc==="ur")?ay+7:ay+H-7-LH;
  const lg=mk("g",{},g);
  
  
  mk("rect",{x:lx,y:ly,width:LW,height:LH,rx:3,fill:"#fff","fill-opacity":0.8,stroke:"#cccccc","stroke-width":1},lg);
  const lt=mk("text",{x:lx+LW/2,y:ly+17,"font-size":13.9,"text-anchor":"middle"},lg);
  lt.textContent="classes";
  
  
  categories.forEach((name,c)=>{
    const cy=ly+32+21*c;
    const m=mk("circle",{cx:lx+19,cy:cy,r:5,fill:classColors[c],stroke:"#fff","stroke-width":0.8},lg);
    
    
    const tx=mk("text",{x:lx+45,y:cy+5,"font-size":13.9},lg);
    tx.textContent=name;
    
    
  });
}
</script>
</body></html>
